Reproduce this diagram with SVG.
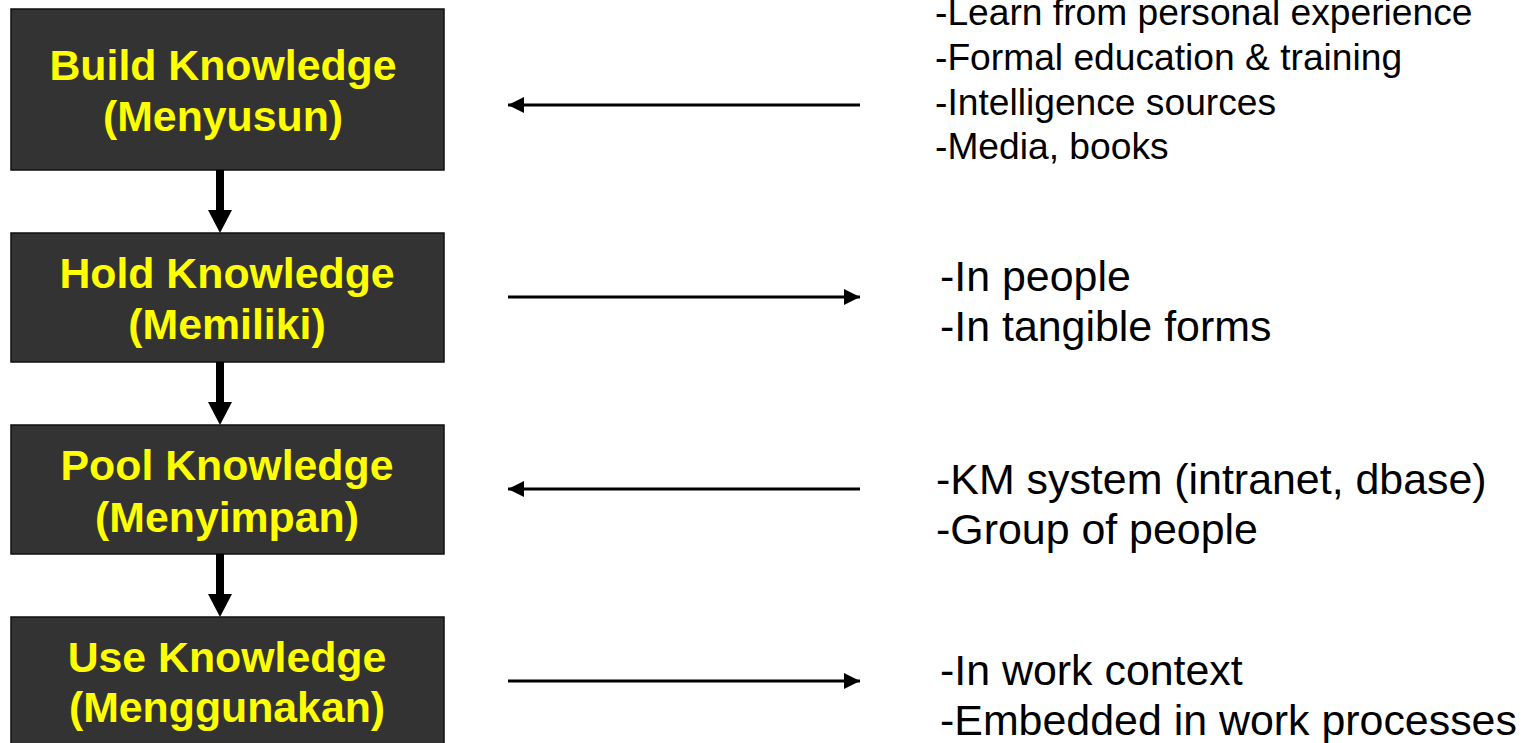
<svg xmlns="http://www.w3.org/2000/svg" width="1526" height="743" viewBox="0 0 1526 743">
<style>
.box{fill:#333333;stroke:#111111;stroke-width:1.5}
.lbl{font-family:"Liberation Sans",Arial,sans-serif;font-weight:bold;font-size:42.8px;fill:#FFFF00;text-anchor:middle}
.note{font-family:"Liberation Sans",Arial,sans-serif;fill:#000000}
.n1{font-size:37.2px}
.n2{font-size:42.9px}
.hline{stroke:#000;stroke-width:3;fill:none}
.vhead{fill:#000}
</style>
<defs>
<marker id="ah" markerUnits="userSpaceOnUse" markerWidth="16" markerHeight="16" refX="16" refY="8" orient="auto">
<path d="M0,0 L16,8 L0,16 z" fill="#000"/>
</marker>
</defs>
<rect width="1526" height="743" fill="#ffffff"/>
<g id="build">
<rect class="box" x="11" y="9" width="433" height="161"/>
<text class="lbl" x="223" y="80">Build Knowledge</text>
<text class="lbl" x="223" y="131">(Menyusun)</text>
</g>
<g id="hold">
<rect class="box" x="11" y="233" width="433" height="129"/>
<text class="lbl" x="227" y="288">Hold Knowledge</text>
<text class="lbl" x="227" y="339">(Memiliki)</text>
</g>
<g id="pool">
<rect class="box" x="11" y="425" width="433" height="129"/>
<text class="lbl" x="227" y="480">Pool Knowledge</text>
<text class="lbl" x="227" y="532">(Menyimpan)</text>
</g>
<g id="use">
<rect class="box" x="11" y="617" width="433" height="140"/>
<text class="lbl" x="227" y="672">Use Knowledge</text>
<text class="lbl" x="227" y="722">(Menggunakan)</text>
</g>
<g id="notes-build">
<text class="note n1" x="935" y="25">-Learn from personal experience</text>
<text class="note n1" x="935" y="70">-Formal education &amp; training</text>
<text class="note n1" x="935" y="115">-Intelligence sources</text>
<text class="note n1" x="935" y="159">-Media, books</text>
</g>
<g id="notes-hold">
<text class="note n2" x="940" y="291">-In people</text>
<text class="note n2" x="940" y="341">-In tangible forms</text>
</g>
<g id="notes-pool">
<text class="note n2" x="936" y="494">-KM system (intranet, dbase)</text>
<text class="note n2" x="936" y="544">-Group of people</text>
</g>
<g id="notes-use">
<text class="note n2" x="940" y="685">-In work context</text>
<text class="note n2" x="940" y="735">-Embedded in work processes</text>
</g>
<g id="connectors">
<rect class="vhead" x="216" y="170" width="8" height="41"/>
<polygon class="vhead" points="208,210 232,210 220,233"/>
<rect class="vhead" x="216" y="362" width="8" height="41"/>
<polygon class="vhead" points="208,402 232,402 220,425"/>
<rect class="vhead" x="216" y="554" width="8" height="41"/>
<polygon class="vhead" points="208,594 232,594 220,617"/>
<line class="hline" x1="860" y1="105" x2="508" y2="105" marker-end="url(#ah)"/>
<line class="hline" x1="508" y1="297" x2="860" y2="297" marker-end="url(#ah)"/>
<line class="hline" x1="860" y1="489" x2="508" y2="489" marker-end="url(#ah)"/>
<line class="hline" x1="508" y1="681" x2="860" y2="681" marker-end="url(#ah)"/>
</g>
</svg>
